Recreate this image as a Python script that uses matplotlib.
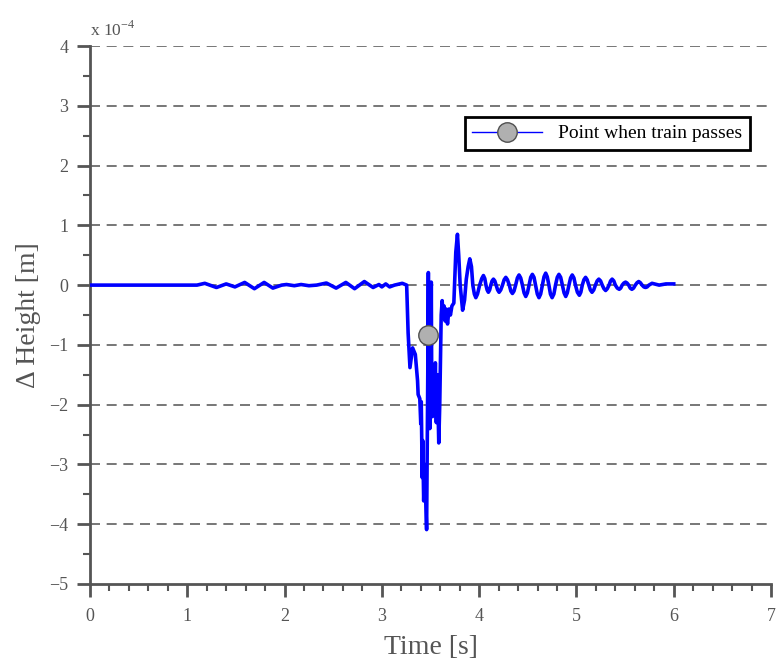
import numpy as np
import matplotlib
matplotlib.use('Agg')
import matplotlib.pyplot as plt
from matplotlib.ticker import MultipleLocator

plt.rcParams['font.family'] = ['Liberation Serif', 'DejaVu Serif']
plt.rcParams['mathtext.fontset'] = 'custom'
plt.rcParams['mathtext.rm'] = 'Liberation Serif'

# rail height change [x 1e-4 m] over time [s]
# before the train arrives
quiet_t = [0.00, 1.10, 1.18, 1.30, 1.40, 1.49, 1.59, 1.69, 1.79, 1.88,
           1.97, 2.02, 2.10, 2.17, 2.25, 2.33, 2.43, 2.53, 2.63, 2.72,
           2.82, 2.91, 2.97, 3.00, 3.04, 3.08, 3.13, 3.21, 3.24]
quiet_h = [0.00, 0.00, 0.03, -0.04, 0.02, -0.03, 0.045, -0.06, 0.045, -0.05,
           0.00, 0.01, -0.01, 0.01, -0.01, 0.00, 0.035, -0.05, 0.045, -0.06,
           0.06, -0.04, 0.01, -0.03, 0.02, -0.03, 0.00, 0.03, 0.01]

# while the wheels cross the point
pass_t = [3.255, 3.27, 3.289, 3.316, 3.344, 3.367, 3.373, 3.39, 3.40, 3.405,
          3.415, 3.42, 3.43, 3.44, 3.46, 3.465, 3.472, 3.478, 3.483, 3.488,
          3.493, 3.498, 3.503, 3.508, 3.513, 3.52, 3.53, 3.54, 3.55, 3.56,
          3.57, 3.585, 3.595, 3.61, 3.62, 3.63, 3.64, 3.65, 3.66, 3.675,
          3.69, 3.705, 3.72, 3.74, 3.76, 3.777, 3.79, 3.805, 3.83, 3.85,
          3.868]
pass_h = [0.00, -0.80, -1.38, -1.05, -1.16, -1.60, -1.83, -1.90, -2.32, -1.95,
          -3.22, -2.60, -3.61, -3.00, -4.09, -3.00, -1.50, 0.21, -2.20, -0.30,
          -2.40, -0.10, -2.00, 0.05, -1.80, -2.20, -1.50, -2.00, -1.30, -2.30,
          -1.50, -2.64, -2.00, -0.50, -0.26, -0.55, -0.35, -0.60, -0.40, -0.65,
          -0.40, -0.50, -0.35, -0.30, 0.55, 0.85, 0.50, 0.00, -0.42, -0.25,
          0.10]

# ringing after the train has gone
ring_t = [3.887, 3.904, 3.921, 3.935, 3.951, 3.966, 3.983, 4.005, 4.027, 4.044,
          4.058, 4.070, 4.082, 4.095, 4.108, 4.120, 4.133, 4.147, 4.161, 4.175,
          4.190, 4.205, 4.222, 4.240, 4.257, 4.274, 4.291, 4.310, 4.326, 4.342,
          4.358, 4.375, 4.393, 4.410, 4.427, 4.445, 4.462, 4.479, 4.496, 4.513,
          4.530, 4.547, 4.564, 4.580, 4.598, 4.615, 4.632, 4.650, 4.667, 4.684,
          4.700, 4.717, 4.733, 4.750, 4.768, 4.785, 4.803, 4.820, 4.838, 4.855,
          4.873, 4.890, 4.906, 4.923, 4.940, 4.957, 4.974, 4.990, 5.010, 5.030,
          5.045, 5.060, 5.077, 5.094, 5.110, 5.127, 5.143, 5.160, 5.178, 5.195,
          5.213, 5.230, 5.248, 5.265, 5.283, 5.300, 5.317, 5.335, 5.351, 5.367,
          5.384, 5.400, 5.420, 5.440, 5.455, 5.470, 5.488, 5.505, 5.520, 5.537,
          5.553, 5.570, 5.587, 5.605, 5.623, 5.640, 5.657, 5.675, 5.693, 5.710,
          5.727, 5.745, 5.777, 5.800, 5.850, 5.920, 6.000]
ring_h = [0.31, 0.44, 0.31, 0.00, -0.15, -0.21, -0.15, 0.00, 0.11, 0.16,
          0.11, 0.00, -0.08, -0.12, -0.08, 0.00, 0.07, 0.10, 0.07, 0.00,
          -0.08, -0.12, -0.08, 0.00, 0.09, 0.13, 0.09, 0.00, -0.10, -0.14,
          -0.10, 0.00, 0.12, 0.17, 0.12, 0.00, -0.13, -0.19, -0.13, 0.00,
          0.13, 0.18, 0.13, 0.00, -0.15, -0.21, -0.15, 0.00, 0.14, 0.20,
          0.14, 0.00, -0.15, -0.21, -0.15, 0.00, 0.13, 0.18, 0.13, 0.00,
          -0.13, -0.19, -0.13, 0.00, 0.12, 0.17, 0.12, 0.00, -0.12, -0.17,
          -0.12, 0.00, 0.09, 0.13, 0.09, 0.00, -0.08, -0.12, -0.08, 0.00,
          0.07, 0.10, 0.07, 0.00, -0.06, -0.09, -0.06, 0.00, 0.07, 0.10,
          0.07, 0.00, -0.05, -0.07, -0.05, 0.00, 0.035, 0.05, 0.035, 0.00,
          -0.05, -0.07, -0.05, 0.00, 0.04, 0.06, 0.04, 0.00, -0.03, -0.04,
          -0.03, 0.00, 0.03, 0.02, 0.00, 0.02, 0.02]

time = quiet_t + pass_t + ring_t
height = quiet_h + pass_h + ring_h

# instant the train passes the measuring point
t_pass = [3.477]
h_pass = [-0.84]

gray = '#555555'

fig = plt.figure(figsize=(7.77, 6.61), dpi=100)
ax = fig.add_axes([0.1158, 0.1165, 0.8765, 0.8139])

ax.plot(time, height, color='blue', linewidth=2.6, solid_joinstyle='round', zorder=3)
ax.plot(t_pass, h_pass, '-o', color='blue', linewidth=1,
        markersize=14, markerfacecolor='#b0b0b0', markeredgecolor='#505050',
        markeredgewidth=1, label='Point when train passes', zorder=4)

ax.set_xlim(0, 7)
ax.set_ylim(-5, 4)
ax.xaxis.set_major_locator(MultipleLocator(1))
ax.xaxis.set_minor_locator(MultipleLocator(0.2))
ax.yaxis.set_major_locator(MultipleLocator(1))
ax.yaxis.set_minor_locator(MultipleLocator(0.5))

for y in range(-4, 5):
    ax.axhline(y, color='#606060', linewidth=1.2, linestyle=(0, (6, 4)), zorder=1)

for side in ['top', 'right']:
    ax.spines[side].set_visible(False)
for side in ['left', 'bottom']:
    ax.spines[side].set_color(gray)
    ax.spines[side].set_linewidth(2)

ax.tick_params(which='major', direction='out', length=9.5, width=2,
               color=gray, labelcolor=gray, labelsize=13)
ax.tick_params(axis='x', which='major', pad=8)
ax.tick_params(axis='y', which='major', pad=6)
ax.tick_params(which='minor', direction='out', length=5, width=1.5, color=gray)

ax.set_xlabel('Time [s]', fontsize=20, color=gray, labelpad=7)
ax.set_ylabel('Δ Height [m]', fontsize=20, color=gray, labelpad=6)
ax.text(0.0, 1.012, 'x 10$^{-4}$', transform=ax.transAxes, fontsize=12.5,
        color=gray, ha='left', va='bottom')

leg = ax.legend(loc='upper right', bbox_to_anchor=(0.969, 0.868), fontsize=14,
                frameon=True, fancybox=False, borderpad=0.4, handlelength=3.6,
                handletextpad=0.8, borderaxespad=0)
leg.get_frame().set_edgecolor('black')
leg.get_frame().set_linewidth(2)
leg.get_frame().set_alpha(1)

fig.savefig('out.png', dpi=100)
